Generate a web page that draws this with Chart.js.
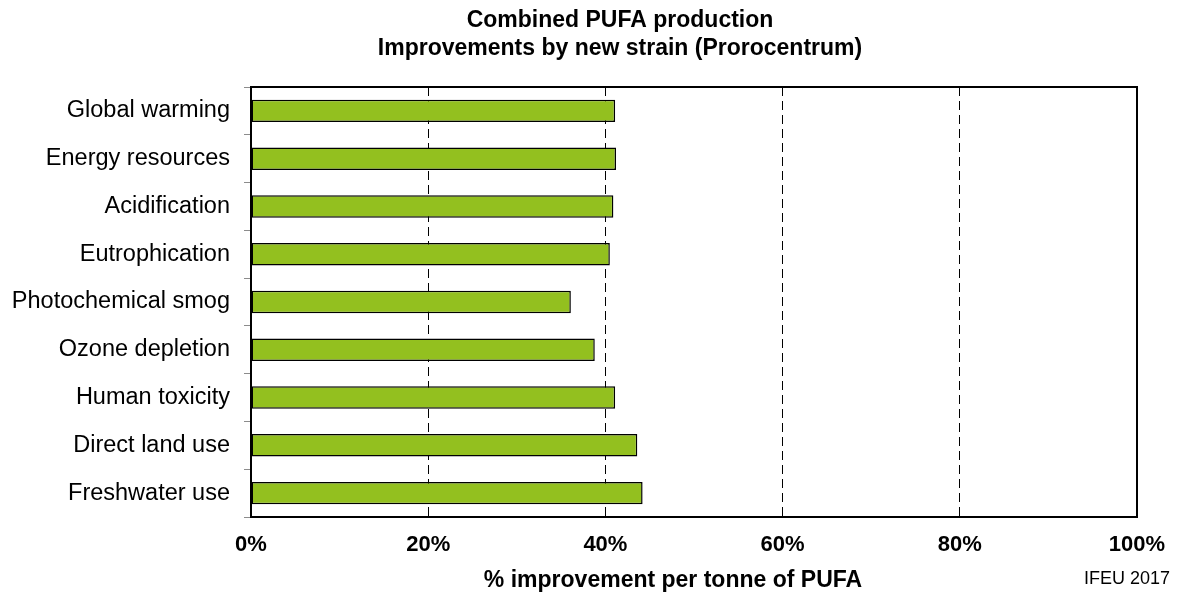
<!DOCTYPE html>
<html>
<head>
<meta charset="utf-8">
<script src="https://cdn.jsdelivr.net/npm/chart.js@4"></script>
<style>
  html, body { margin: 0; padding: 0; background: #fff; }
  #wrap { width: 1178px; height: 604px; position: relative; }
</style>
</head>
<body>
<div id="wrap"><canvas id="pufaChart" width="1178" height="604"></canvas></div>
<script>
// Impact categories, top to bottom
const categories = [
  "Global warming",
  "Energy resources",
  "Acidification",
  "Eutrophication",
  "Photochemical smog",
  "Ozone depletion",
  "Human toxicity",
  "Direct land use",
  "Freshwater use"
]

// % improvement per tonne of PUFA
const improvement = [41.1, 41.2, 40.9, 40.5, 36.1, 38.8, 41.1, 43.6, 44.2]

const xTicks = [0, 20, 40, 60, 80, 100]

const titleLines = ["Combined PUFA production", "Improvements by new strain (Prorocentrum)"]
const xAxisTitle = "% improvement per tonne of PUFA"
const sourceNote = "IFEU 2017"

const FONT = "'Liberation Sans', Arial, sans-serif"

// Draws the frame around the plot area and the free texts (title, axis title, source)
const extrasPlugin = {
  id: "extras",
  afterDraw(chart) {
    const ctx = chart.ctx
    const a = chart.chartArea
    ctx.save()
    ctx.strokeStyle = "#000"
    ctx.lineWidth = 2
    ctx.beginPath()
    ctx.moveTo(a.left, a.top)
    ctx.lineTo(a.right, a.top)
    ctx.lineTo(a.right, a.bottom)
    ctx.stroke()

    ctx.fillStyle = "#000"
    ctx.textAlign = "center"
    ctx.textBaseline = "middle"
    ctx.font = "bold 23px " + FONT
    ctx.fillText(titleLines[0], 620, 21)
    ctx.fillText(titleLines[1], 620, 49)
    ctx.fillText(xAxisTitle, 673, 581)

    ctx.font = "18px " + FONT
    ctx.textAlign = "right"
    ctx.fillText(sourceNote, 1170, 579)
    ctx.restore()
  }
}

new Chart(document.getElementById("pufaChart"), {
  type: "bar",
  data: {
    labels: categories,
    datasets: [{
      data: improvement,
      backgroundColor: "#93c01f",
      borderColor: "#000",
      borderWidth: 1.5,
      borderSkipped: false,
      categoryPercentage: 1,
      barPercentage: 0.47
    }]
  },
  options: {
    indexAxis: "y",
    responsive: false,
    animation: false,
    layout: { padding: { top: 87, right: 41, left: 0, bottom: 0 } },
    plugins: {
      legend: { display: false },
      title: { display: false },
      tooltip: { enabled: false }
    },
    scales: {
      x: {
        min: 0,
        max: 100,
        afterBuildTicks: function(scale) {
          scale.ticks = xTicks.map(v => ({ value: v }))
        },
        afterFit: function(scale) {
          scale.height = 87
          scale.paddingRight = 0
          scale.paddingLeft = 0
        },
        ticks: {
          color: "#000",
          padding: 15,
          font: { family: FONT, size: 22, weight: "bold" },
          callback: v => v + "%"
        },
        grid: {
          drawTicks: false,
          lineWidth: 1,
          color: ctx => (ctx.tick && (ctx.tick.value === 0 || ctx.tick.value === 100)) ? "rgba(0,0,0,0)" : "#000"
        },
        border: { display: true, color: "#000", width: 2, dash: [9, 5] }
      },
      y: {
        afterFit: function(scale) { scale.width = 251 },
        ticks: {
          color: "#000",
          padding: 14,
          font: { family: FONT, size: 23.5 }
        },
        grid: {
          offset: true,
          drawOnChartArea: false,
          tickLength: 7,
          color: "#8c8c8c",
          lineWidth: 1
        },
        border: { display: true, color: "#000", width: 2 }
      }
    }
  },
  plugins: [extrasPlugin]
})
</script>
</body>
</html>
